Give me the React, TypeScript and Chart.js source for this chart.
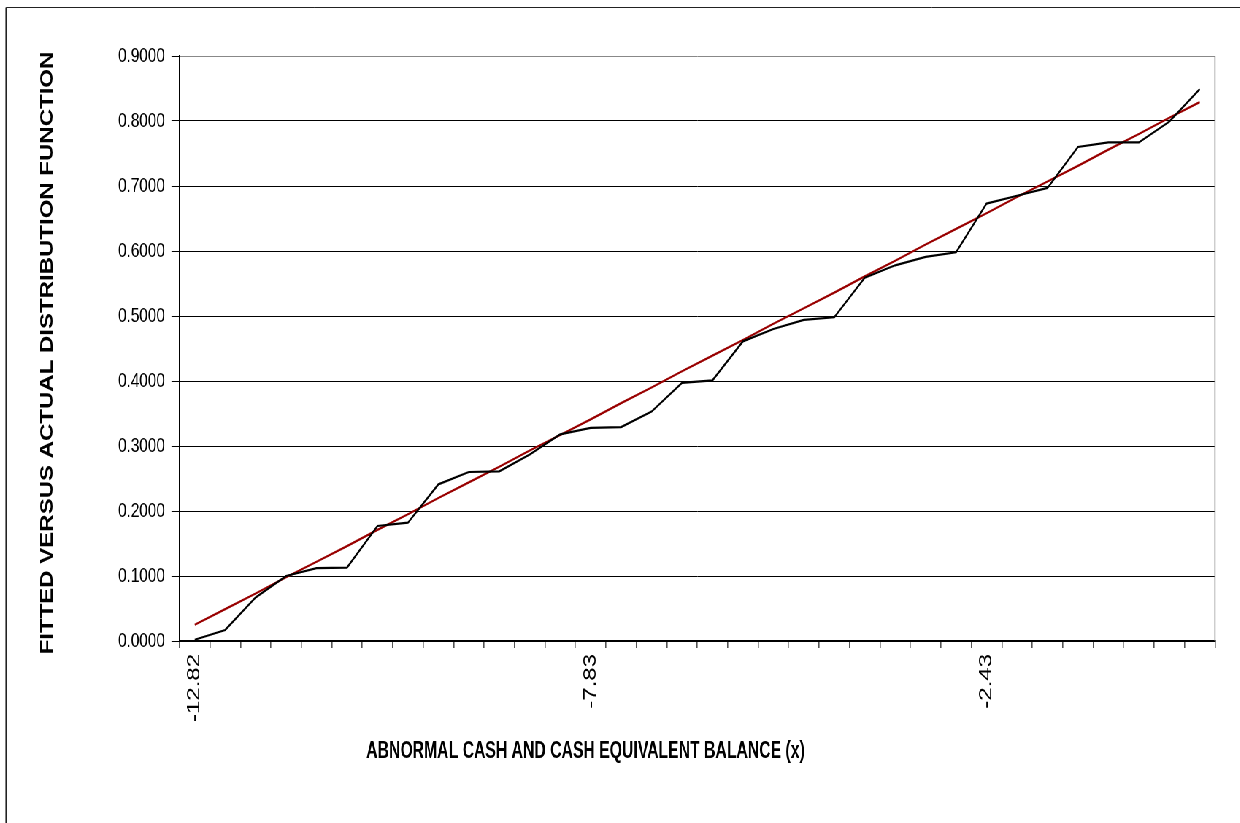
import React, { useEffect, useRef } from "react";
import { Chart, registerables } from "chart.js";

Chart.register(...registerables);

// Category labels along the x axis (only three are printed in the reference)
const xLabels: string[] = [
  "-12.82", "", "", "", "", "", "", "", "", "", "", "", "",
  "-7.83", "", "", "", "", "", "", "", "", "", "", "", "",
  "-2.43", "", "", "", "", "", "", "",
];

// Actual (empirical) distribution function
const actualValues: number[] = [
  0.002, 0.017, 0.067, 0.100, 0.112, 0.113, 0.177, 0.182, 0.241, 0.260,
  0.261, 0.287, 0.318, 0.328, 0.329, 0.353, 0.397, 0.401, 0.461, 0.480,
  0.494, 0.498, 0.559, 0.578, 0.591, 0.598, 0.673, 0.685, 0.697, 0.760,
  0.767, 0.767, 0.799, 0.849,
];

// Fitted distribution function
const fittedValues: number[] = [
  0.025, 0.049, 0.073, 0.098, 0.122, 0.146, 0.171, 0.195, 0.220, 0.244,
  0.268, 0.293, 0.317, 0.341, 0.366, 0.390, 0.415, 0.439, 0.463, 0.488,
  0.512, 0.536, 0.561, 0.585, 0.610, 0.634, 0.658, 0.683, 0.707, 0.731,
  0.756, 0.780, 0.805, 0.829,
];

const yTitle = "FITTED VERSUS ACTUAL DISTRIBUTION FUNCTION";
const xTitle = "ABNORMAL CASH AND CASH EQUIVALENT BALANCE (x)";

const SX = 0.73; // horizontal compression of the whole picture
const PAGE_W = 1240;
const PAGE_H = 823;
const W = Math.round(PAGE_W / SX);
const FONT = '"Liberation Sans", Arial, sans-serif';

export default function App() {
  const ref = useRef<HTMLCanvasElement | null>(null);

  useEffect(() => {
    if (!ref.current) return;

    const decor = {
      id: "decor",
      afterDraw(chart: any) {
        const ctx = chart.ctx as CanvasRenderingContext2D;
        const a = chart.chartArea;
        ctx.save();
        // outer frame (top and left edges)
        ctx.strokeStyle = "#222";
        ctx.lineWidth = 1.6;
        ctx.beginPath();
        ctx.moveTo(6 / SX, PAGE_H);
        ctx.lineTo(6 / SX, 7.5);
        ctx.stroke();
        ctx.lineWidth = 1;
        ctx.beginPath();
        ctx.moveTo(6 / SX, 7.5);
        ctx.lineTo(W, 7.5);
        ctx.stroke();
        // right edge of plot area
        ctx.strokeStyle = "#888";
        ctx.lineWidth = 1.6;
        ctx.beginPath();
        ctx.moveTo(a.right, a.top);
        ctx.lineTo(a.right, a.bottom);
        ctx.stroke();
        // axis titles
        ctx.fillStyle = "#000";
        ctx.textAlign = "center";
        ctx.textBaseline = "middle";
        ctx.font = `bold 24px ${FONT}`;
        ctx.save();
        ctx.translate(48 / SX, 353);
        ctx.rotate(-Math.PI / 2);
        ctx.fillText(yTitle, 0, 0);
        ctx.restore();
        ctx.save();
        ctx.translate(585.5 / SX, 751);
        ctx.scale(0.9, 1);
        ctx.fillText(xTitle, 0, 0);
        ctx.restore();
        ctx.restore();
      },
    };

    const chart = new Chart(ref.current, {
      type: "line",
      data: {
        labels: xLabels,
        datasets: [
          {
            label: "Actual",
            data: actualValues,
            borderColor: "#000000",
            borderWidth: 2.2,
            pointRadius: 0,
            tension: 0,
            fill: false,
          },
          {
            label: "Fitted",
            data: fittedValues,
            borderColor: "#990000",
            borderWidth: 2.2,
            pointRadius: 0,
            tension: 0,
            fill: false,
          },
        ],
      },
      options: {
        responsive: false,
        devicePixelRatio: 1,
        animation: false,
        layout: {
          padding: { left: 0, top: 56, right: W - 1215 / SX, bottom: 0 },
        },
        plugins: {
          legend: { display: false },
          tooltip: { enabled: false },
          title: { display: false },
        },
        scales: {
          x: {
            type: "category",
            offset: true,
            afterFit: (s: any) => {
              s.height = PAGE_H - 641;
            },
            grid: {
              display: true,
              offset: true,
              drawOnChartArea: false,
              drawTicks: true,
              tickLength: 7,
              color: "#555",
              lineWidth: 1.6,
            },
            border: { display: true, color: "#000", width: 2 },
            ticks: {
              autoSkip: false,
              maxRotation: 90,
              minRotation: 90,
              padding: 6,
              color: "#000",
              font: { family: FONT, size: 24 },
            },
          },
          y: {
            min: 0,
            max: 0.9,
            afterFit: (s: any) => {
              s.width = 179.5 / SX;
            },
            grid: {
              display: true,
              drawTicks: true,
              tickLength: 11,
              color: (c: any) => (c.tick && c.tick.value >= 0.89 ? "#888" : "#000"),
              tickColor: "#000",
              lineWidth: 1,
            },
            border: { display: true, color: "#000", width: 1.6 },
            ticks: {
              stepSize: 0.1,
              padding: 9,
              color: "#000",
              font: { family: FONT, size: 21 },
              callback: (v: any) => Number(v).toFixed(4),
            },
          },
        },
      },
      plugins: [decor],
    });

    return () => chart.destroy();
  }, []);

  return (
    <div
      style={{
        position: "fixed",
        left: 0,
        top: 0,
        width: W,
        height: PAGE_H,
        transform: `scaleX(${SX})`,
        transformOrigin: "0 0",
        background: "#fff",
      }}
    >
      <canvas
        ref={ref}
        width={W}
        height={PAGE_H}
        style={{ display: "block", width: W, height: PAGE_H }}
      />
    </div>
  );
}
